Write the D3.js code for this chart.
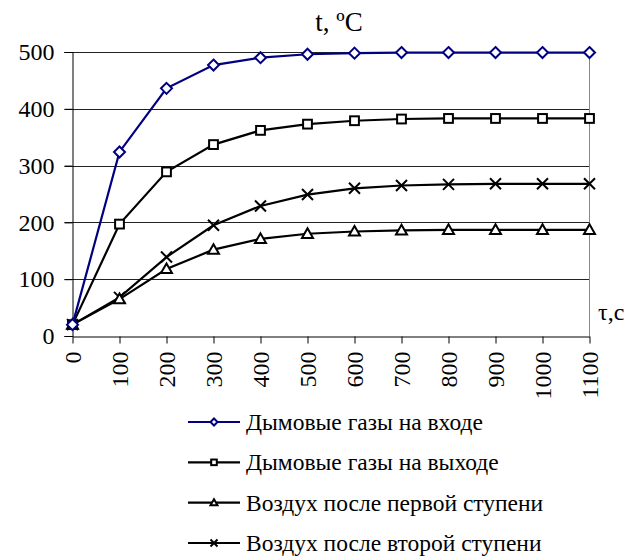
<!DOCTYPE html>
<html>
<head>
<meta charset="utf-8">
<script src="https://cdn.jsdelivr.net/npm/d3@7"></script>
<style>
  body { margin: 0; background: #fff; }
</style>
</head>
<body>
<div id="chart"></div>
<script>
// time, s
let times = [0, 100, 200, 300, 400, 500, 600, 700, 800, 900, 1000, 1100];
let gasIn = [20, 324, 436, 477, 490, 496, 498, 499, 499, 499, 499, 499];
let gasOut = [20, 197, 289, 337, 362, 373, 379, 382, 383, 383, 383, 383];
let airFirst = [20, 65, 118, 152, 171, 180, 184, 186, 187, 187, 187, 187];
let airSecond = [20, 68, 139, 195, 229, 249, 260, 265, 267, 268, 268, 268];
let yTicks = [0, 100, 200, 300, 400, 500];

let names = ["Дымовые газы на входе", "Дымовые газы на выходе",
  "Воздух после первой ступени", "Воздух после второй ступени"];

let series = [
  { name: names[0], values: gasIn, color: "#000080", shape: "diamond" },
  { name: names[1], values: gasOut, color: "#000", shape: "square" },
  { name: names[2], values: airFirst, color: "#000", shape: "triangle" },
  { name: names[3], values: airSecond, color: "#000", shape: "cross" }
];

let width = 640, height = 557;
let mLeft = 72.5, mRight = 589.5, mTop = 52, mBottom = 336;
let serif = "Liberation Serif";

let x = d3.scaleLinear().domain([0, 1100]).range([mLeft, mRight]);
let y = d3.scaleLinear().domain([0, 500]).range([mBottom, mTop]);

let svg = d3.select("#chart").append("svg")
  .attr("width", width).attr("height", height);

// grid
svg.append("g").selectAll("line").data(yTicks.slice(1)).enter().append("line")
  .attr("x1", mLeft - 8).attr("x2", mRight)
  .attr("y1", d => Math.round(y(d)) + 0.5).attr("y2", d => Math.round(y(d)) + 0.5)
  .attr("stroke", "#222").attr("stroke-width", 1);

// right border
svg.append("line").attr("x1", mRight).attr("x2", mRight)
  .attr("y1", mTop).attr("y2", mBottom).attr("stroke", "#888");

// y axis
let yAxis = d3.axisLeft(y).tickValues(yTicks).tickSize(8).tickPadding(10);
let gy = svg.append("g").attr("transform", `translate(${mLeft},0)`).call(yAxis);
gy.selectAll("text").attr("font-size", 24);
gy.selectAll("line,path").attr("stroke", "#000");

// x axis
let xAxis = d3.axisBottom(x).tickValues(times).tickFormat(d3.format("d"))
  .tickSize(7).tickSizeOuter(0);
let gx = svg.append("g").attr("transform", `translate(0,${mBottom + 0.5})`).call(xAxis);
gx.selectAll("line,path").attr("stroke", "#000");
gx.selectAll("text")
  .attr("font-size", 24)
  .attr("transform", "rotate(-90)")
  .attr("text-anchor", "end")
  .attr("x", -15).attr("y", 0).attr("dy", "0.33em");

// titles
svg.append("text").attr("x", 339).attr("y", 31).attr("text-anchor", "middle")
  .attr("font-size", 27).text("t, ºC");
svg.append("text").attr("x", 598).attr("y", 320).attr("font-size", 24).text("τ,с");

function marker(g, shape, s, color) {
  if (shape === "diamond") {
    g.append("path").attr("d", `M0,${-s}L${s},0L0,${s}L${-s},0Z`)
      .attr("fill", "#fff").attr("stroke", color).attr("stroke-width", 2);
  } else if (shape === "square") {
    g.append("rect").attr("x", -s * 0.8).attr("y", -s * 0.8)
      .attr("width", s * 1.6).attr("height", s * 1.6)
      .attr("fill", "#fff").attr("stroke", color).attr("stroke-width", 2);
  } else if (shape === "triangle") {
    g.append("path").attr("d", `M0,${-s}L${s},${s * 0.75}L${-s},${s * 0.75}Z`)
      .attr("fill", "#fff").attr("stroke", color).attr("stroke-width", 2);
  } else {
    g.append("path").attr("d", `M${-s},${-s}L${s},${s}M${-s},${s}L${s},${-s}`)
      .attr("stroke", color).attr("stroke-width", 2);
  }
}

let line = d3.line().x((d, i) => x(times[i])).y(d => y(d));

// draw back to front
series.slice().reverse().forEach(s => {
  svg.append("path").datum(s.values).attr("d", line)
    .attr("fill", "none").attr("stroke", s.color).attr("stroke-width", 2.2);
  s.values.forEach((v, i) => {
    marker(svg.append("g").attr("transform", `translate(${x(times[i])},${y(v)})`),
      s.shape, 5.5, s.color);
  });
});

// legend
let legendY = d3.scalePoint().domain(names).range([422, 543]);
series.forEach(s => {
  let g = svg.append("g").attr("transform", `translate(0,${legendY(s.name)})`);
  g.append("line").attr("x1", 188).attr("x2", 240).attr("stroke", s.color).attr("stroke-width", 2.2);
  marker(g.append("g").attr("transform", "translate(214,0)"), s.shape, 3.5, s.color);
  g.append("text").attr("x", 246).attr("y", 8).attr("font-size", 23.5).text(s.name);
});

// serif everywhere, set on each text itself
svg.selectAll("text").attr("font-family", serif).style("font-family", serif);
</script>
</body>
</html>
